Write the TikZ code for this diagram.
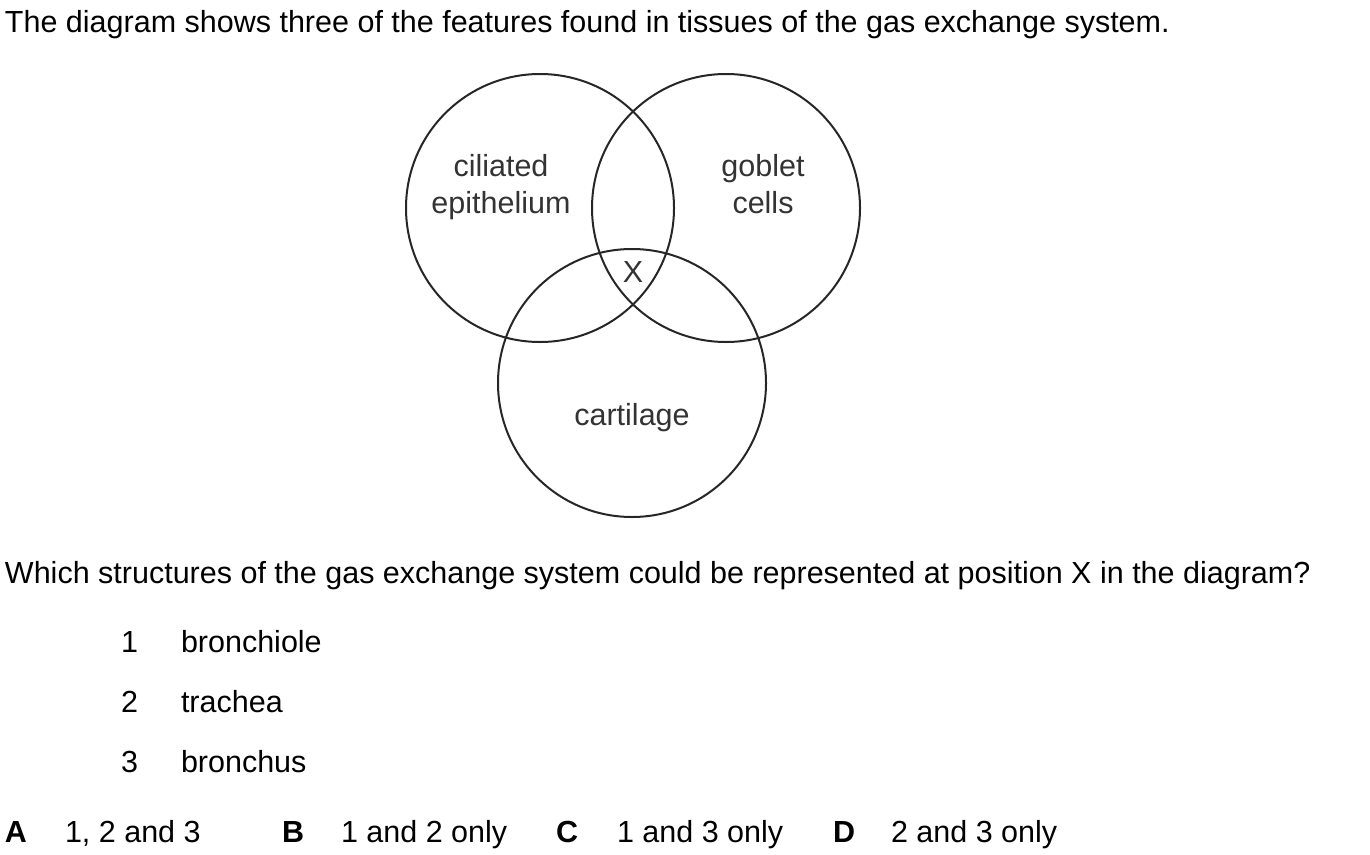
\documentclass[tikz,border=0pt]{standalone}
\usepackage{fontspec}
\setmainfont{Liberation Sans}
\begin{document}
\begin{tikzpicture}[x=1pt,y=-1pt,
  txt/.style={inner sep=0pt,outer sep=0pt,font=\fontsize{30.5}{36}\selectfont,anchor=base west},
  lbl/.style={inner sep=0pt,outer sep=0pt,font=\fontsize{30.5}{36}\selectfont,anchor=base,text=black!80},
  bold/.style={font=\fontsize{30.5}{36}\selectfont\bfseries},
  venn/.style={circle,draw=black!85,line width=2pt,minimum size=268pt,inner sep=0pt}]
\useasboundingbox (0,0) rectangle (1370,854);
\node[txt] (t1) at (5,32) {The diagram shows three of the features found in tissues of the gas exchange system.};
\node[venn] (cL) at (540,208) {};
\node[venn] (cR) at (726,208) {};
\node[venn] (cB) at (632,383) {};
\node[lbl] (l1) at (501,176) {ciliated};
\node[lbl] (l2) at (501,213) {epithelium};
\node[lbl] (l3) at (763,176) {goblet};
\node[lbl] (l4) at (763,213) {cells};
\node[lbl] (lx) at (633,282) {X};
\node[lbl] (l5) at (632,425) {cartilage};
\node[txt] (q) at (5,583) {Which structures of the gas exchange system could be represented at position X in the diagram?};
\node[txt] (n1) at (121,652) {1};
\node[txt] (w1) at (181,652) {bronchiole};
\node[txt] (n2) at (121,712) {2};
\node[txt] (w2) at (181,712) {trachea};
\node[txt] (n3) at (121,772) {3};
\node[txt] (w3) at (181,772) {bronchus};
\node[txt,bold] (a) at (5,842) {A};
\node[txt] (aa) at (65,842) {1, 2 and 3};
\node[txt,bold] (b) at (282,842) {B};
\node[txt] (bb) at (341,842) {1 and 2 only};
\node[txt,bold] (c) at (556,842) {C};
\node[txt] (cc) at (617,842) {1 and 3 only};
\node[txt,bold] (d) at (833,842) {D};
\node[txt] (dd) at (891,842) {2 and 3 only};
\end{tikzpicture}
\end{document}
